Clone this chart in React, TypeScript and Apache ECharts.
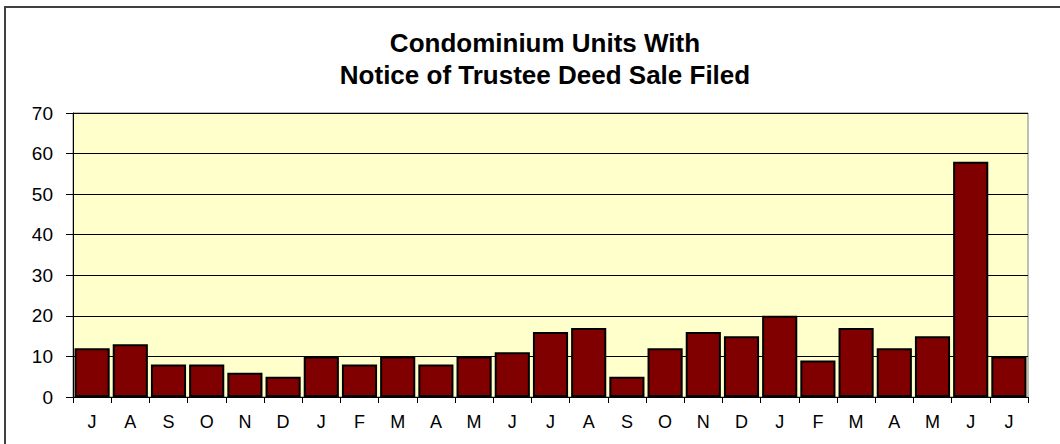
import React, { useEffect, useRef } from "react";
import * as echarts from "echarts";

const months = ["J", "A", "S", "O", "N", "D", "J", "F", "M", "A", "M", "J", "J", "A", "S", "O", "N", "D", "J", "F", "M", "A", "M", "J", "J"];
const units = [12, 13, 8, 8, 6, 5, 10, 8, 10, 8, 10, 11, 16, 17, 5, 12, 16, 15, 20, 9, 17, 12, 15, 58, 10];
const titleText = "Condominium Units With\nNotice of Trustee Deed Sale Filed";

export default function App() {
  const ref = useRef<HTMLDivElement>(null);
  useEffect(() => {
    document.body.style.margin = "0";
    const chart = echarts.init(ref.current!, null, { renderer: "svg" });
    const font = "Arial, 'Liberation Sans', sans-serif";
    chart.setOption({
      animation: false,
      backgroundColor: "#ffffff",
      title: {
        text: titleText,
        left: 545,
        top: 27,
        padding: 0,
        textAlign: "center",
        textStyle: { fontFamily: font, fontSize: 26, fontWeight: "bold", color: "#000", lineHeight: 32 },
      },
      graphic: [
        {
          type: "rect",
          shape: { x: 5, y: 7, width: 1100, height: 500 },
          style: { fill: "none", stroke: "#404040", lineWidth: 2 },
          silent: true,
        },
      ],
      grid: {
        left: 73,
        top: 113,
        right: 32,
        bottom: 47,
        show: true,
        backgroundColor: "#FFFFCC",
        borderColor: "#808080",
        borderWidth: 1,
      },
      xAxis: {
        type: "category",
        data: months,
        axisLine: { lineStyle: { color: "#000", width: 1 } },
        axisTick: { show: true, length: 6, lineStyle: { color: "#000" } },
        axisLabel: { fontFamily: font, fontSize: 18, color: "#000", margin: 16 },
      },
      yAxis: {
        type: "value",
        min: 0,
        max: 70,
        interval: 10,
        axisLine: { show: true, lineStyle: { color: "#000", width: 1 } },
        axisTick: { show: true, length: 7, lineStyle: { color: "#000" } },
        axisLabel: { fontFamily: font, fontSize: 19, color: "#000", margin: 20 },
        splitLine: { lineStyle: { color: "#000", width: 1 } },
      },
      series: [
        {
          type: "bar",
          data: units,
          barCategoryGap: "8%",
          itemStyle: { color: "#800000", borderColor: "#000", borderWidth: 2 },
        },
      ],
    });
    return () => chart.dispose();
  }, []);
  return <div ref={ref} style={{ width: 1060, height: 444, position: "absolute", left: 0, top: 0 }} />;
}
